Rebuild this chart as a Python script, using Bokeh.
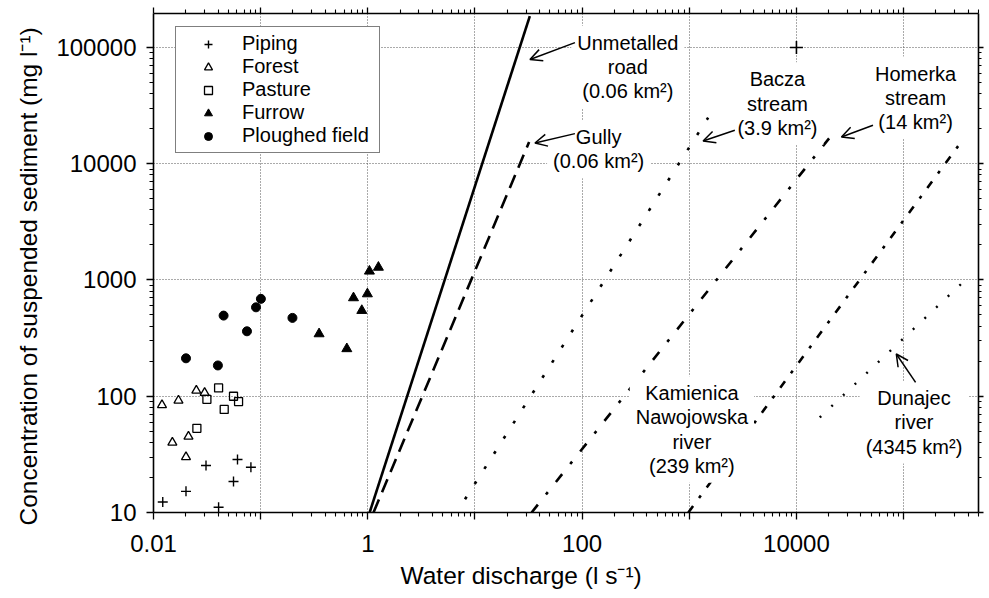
from bokeh.plotting import figure
from bokeh.models import (LogAxis, FixedTicker, CustomJSTickFormatter, Label, Arrow, OpenHead,
                          Legend, LegendItem, Range1d, Title)
from bokeh.embed import file_html
from bokeh.resources import INLINE

FONT = "Liberation Sans"

# ---------------- data ----------------
# scatter series: water discharge (l s-1) and suspended sediment concentration (mg l-1)
piping_q = [0.0122, 0.0201, 0.0309, 0.0405, 0.0558, 0.0608, 0.0811]
piping_c = [12.3, 15.2, 25.4, 11.1, 18.5, 28.6, 24.5]
forest_q = [0.0120, 0.0171, 0.0150, 0.0212, 0.0201, 0.0251, 0.0300]
forest_c = [84, 92, 40, 45, 30, 112, 107]
pasture_q = [0.0254, 0.0315, 0.0405, 0.0457, 0.0558, 0.0622]
pasture_c = [53, 94, 118, 77, 100, 90]
furrow_q = [0.351, 0.637, 0.735, 0.879, 0.991, 1.035, 1.256]
furrow_c = [344, 256, 702, 546, 759, 1190, 1285]
ploughed_q = [0.0201, 0.0399, 0.0451, 0.0745, 0.0905, 0.1005, 0.198]
ploughed_c = [212, 184, 494, 362, 582, 688, 472]
extra_q = [10000]
extra_c = [100000]

# rating curves (end points)
road_q = [1.04, 32.5]
road_c = [10, 186000]
gully_q = [1.13, 32.0]
gully_c = [10, 15400]
bacza_q = [8.07, 1500]
bacza_c = [13.0, 24900]
homerka_q = [33.8, 21900]
homerka_c = [10, 18200]
kamienica_q = [980, 345000]
kamienica_c = [10, 15400]
dunajec_q = [16500, 353000]
dunajec_c = [65.8, 944]

series_names = ["Piping", "Forest", "Pasture", "Furrow", "Ploughed field"]

# tick values and labels
x_tick_values = [0.01, 0.1, 1, 10, 100, 1000, 10000, 100000]
x_tick_labels = ["0.01", "", "1", "", "100", "", "10000", ""]
y_tick_values = [10, 100, 1000, 10000, 100000]
y_tick_labels = ["10", "100", "1000", "10000", "100000"]

x_title = "Water discharge (l s\u207b\u00b9)"
y_title = "Concentration of suspended sediment (mg l\u207b\u00b9)"

# curve annotations (text, anchor in data units)
note_text = ["Unmetalled\nroad\n(0.06 km\u00b2)", "Gully\n(0.06 km\u00b2)", "Bacza\nstream\n(3.9 km\u00b2)",
             "Homerka\nstream\n(14 km\u00b2)", "Kamienica\nNawojowska\nriver\n(239 km\u00b2)",
             "Dunajec\nriver\n(4345 km\u00b2)"]
note_q = [267, 142.6, 6650, 129400, 1057, 125000]
note_c = [68100, 13360, 32960, 36980, 51.8, 59.6]

# arrows (start -> end, data units)
arrow_q0 = [85.7, 85.7, 2660, 51800, 129400]
arrow_c0 = [110000, 18150, 19400, 21400, 131.8]
arrow_q1 = [32.6, 36.3, 1346, 26300, 85500]
arrow_c1 = [78900, 15070, 15700, 17000, 231]

# ---------------- figure ----------------
p = figure(width=989, height=598, x_axis_type="log", y_axis_type="log",
           x_range=Range1d(0.01, 5e5), y_range=Range1d(10, 1.96e5),
           output_backend="svg", toolbar_location=None,
           min_border_left=153, min_border_right=11, min_border_top=13, min_border_bottom=86,
           background_fill_color="white", border_fill_color="white")
p.outline_line_color = None

minor_x = [m * 10.0 ** k for k in range(-2, 6) for m in range(2, 10)]
minor_y = [m * 10.0 ** k for k in range(1, 6) for m in range(2, 10)]
xt = FixedTicker(ticks=x_tick_values, minor_ticks=minor_x)
yt = FixedTicker(ticks=y_tick_values, minor_ticks=minor_y)

fmt_code = """
let best = 0, bd = 1e9;
for (let i = 0; i < tv.length; i++) {
  const d = Math.abs(Math.log10(tick) - Math.log10(tv[i]));
  if (d < bd) { bd = d; best = i; }
}
return bd < 1e-6 ? tl[best] : "";
"""
xfmt = CustomJSTickFormatter(args=dict(tv=x_tick_values, tl=x_tick_labels), code=fmt_code)
yfmt = CustomJSTickFormatter(args=dict(tv=y_tick_values, tl=y_tick_labels), code=fmt_code)
blank = CustomJSTickFormatter(code="return '';")


def style_axis(ax, labels=True, tick_out=7, minor_out=4):
    ax.axis_line_color = "black"
    ax.axis_line_width = 1.6
    ax.major_tick_line_color = "black"
    ax.major_tick_line_width = 1.3
    ax.minor_tick_line_color = "black"
    ax.minor_tick_line_width = 1.1
    ax.major_tick_in = 0
    ax.major_tick_out = tick_out
    ax.minor_tick_in = 0
    ax.minor_tick_out = minor_out
    ax.axis_label = None
    if labels:
        ax.major_label_text_font = FONT
        ax.major_label_text_font_size = "24px"
        ax.major_label_text_color = "black"
    else:
        ax.major_label_text_font_size = "0px"
        ax.major_label_standoff = 0


xa = p.xaxis[0]
xa.ticker = xt
xa.formatter = xfmt
style_axis(xa)
xa.major_label_standoff = 15

ya = p.yaxis[0]
ya.ticker = yt
ya.formatter = yfmt
style_axis(ya)
ya.major_label_standoff = 10

top = LogAxis(ticker=xt, formatter=blank)
style_axis(top, labels=False, tick_out=6, minor_out=4)
p.add_layout(top, "above")
right = LogAxis(ticker=yt, formatter=blank)
style_axis(right, labels=False, tick_out=5, minor_out=3)
p.add_layout(right, "right")

for g, t in ((p.xgrid[0], xt), (p.ygrid[0], yt)):
    g.ticker = t
    g.grid_line_color = "#555555"
    g.grid_line_dash = "1 2"
    g.grid_line_width = 1

# rating curves
p.line(road_q, road_c, line_color="black", line_width=2.6)
p.line(gully_q, gully_c, line_color="black", line_width=2.6, line_dash="14 8")
p.line(bacza_q, bacza_c, line_color="black", line_width=2.6, line_dash="3 15")
p.line(homerka_q, homerka_c, line_color="black", line_width=2.6, line_dash="10 13 3 13")
p.line(kamienica_q, kamienica_c, line_color="black", line_width=2.6, line_dash="8 10 3 10")
p.line(dunajec_q, dunajec_c, line_color="black", line_width=2.4, line_dash="2 14")

# scatter series
r_pip = p.scatter(piping_q, piping_c, marker="cross", size=10, line_color="black", line_width=1.4)
r_for = p.scatter(forest_q, forest_c, marker="triangle", size=9, fill_color=None,
                  line_color="black", line_width=1.3)
r_pas = p.scatter(pasture_q, pasture_c, marker="square", size=8, fill_color=None,
                  line_color="black", line_width=1.3)
r_fur = p.scatter(furrow_q, furrow_c, marker="triangle", size=10, fill_color="black",
                  line_color="black")
r_plo = p.scatter(ploughed_q, ploughed_c, marker="circle", size=9, fill_color="black",
                  line_color="black")
p.scatter(extra_q, extra_c, marker="cross", size=13, line_color="black", line_width=1.6)

legend = Legend(items=[LegendItem(label=n, renderers=[r]) for n, r in
                       zip(series_names, [r_pip, r_for, r_pas, r_fur, r_plo])],
                location=(22, 359), padding=5, spacing=0, glyph_width=54, glyph_height=20,
                label_height=20, label_width=132, label_standoff=7,
                label_text_font=FONT, label_text_font_size="20px", label_text_color="black",
                border_line_color="black", border_line_width=1.6,
                background_fill_color="white", background_fill_alpha=1.0)
p.add_layout(legend)

# curve annotations
for t, q, c in zip(note_text, note_q, note_c):
    p.add_layout(Label(x=q, y=c, text=t, text_align="center", text_baseline="middle",
                       text_font=FONT, text_font_size="20px", text_color="black",
                       text_line_height=1.1,
                       background_fill_color="white", background_fill_alpha=1.0, padding=6))

for q0, c0, q1, c1 in zip(arrow_q0, arrow_c0, arrow_q1, arrow_c1):
    p.add_layout(Arrow(x_start=q0, y_start=c0, x_end=q1, y_end=c1, line_color="black",
                       line_width=1.5,
                       end=OpenHead(size=12, line_color="black", line_width=1.5)))

# axis titles
p.add_layout(Title(text=x_title, align="left", offset=247, standoff=11,
                   text_font=FONT, text_font_size="24.5px", text_font_style="normal",
                   text_color="black"), "below")
p.add_layout(Title(text=y_title, align="left", offset=-13, standoff=23,
                   text_font=FONT, text_font_size="24.5px", text_font_style="normal",
                   text_color="black"), "left")

open("out.html", "w").write(file_html(p, INLINE))
